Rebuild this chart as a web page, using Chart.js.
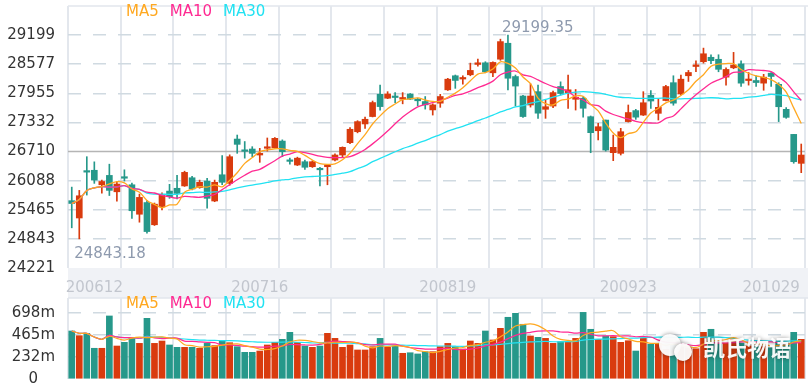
<!DOCTYPE html>
<html>
<head>
<meta charset="utf-8">
<script src="https://cdn.jsdelivr.net/npm/chart.js@4.4.0/dist/chart.umd.min.js"></script>
<style>
html, body { margin: 0; padding: 0; background: #fff; }
#wrap { position: relative; width: 808px; height: 384px; overflow: hidden; }
#kline { position: absolute; left: 0; top: 0; }
#vol { position: absolute; left: 0; top: 296px; }
</style>
</head>
<body>
<div id="wrap">
    <canvas id="kline" width="808" height="296"></canvas>
    <canvas id="vol" width="808" height="88"></canvas>
</div>
<script>
// ================= DATOS =================

const openP = [25660,25290,26300,26310,26000,26200,25850,26170,26000,25370,
    25620,25145,25535,25865,25925,25975,26150,25940,26080,25653,
    26214,26031,26977,26735,26764,26636,26780,26792,26934,26510,
    26422,26493,26386,26350,26386,26529,26636,26900,27134,27300,
    27458,27935,27850,27880,27830,27942,27810,27779,27600,27744,
    28029,28330,28260,28351,28572,28607,28393,28684,29025,28313,
    27897,27705,27990,27613,27683,28100,27968,27827,27849,27455,
    27155,27383,26686,26672,27350,27585,27490,27911,27527,27800,
    28182,27942,28330,28528,28630,28725,28682,28300,28500,28585,
    28228,28228,28172,28385,28147,27612,27077,26458];

const highP = [25950,25880,26600,26490,26100,26440,26070,26320,26035,25800,
    25660,25610,25830,26010,26200,26290,26180,26100,26140,26100,
    26622,26640,27063,26924,26814,26779,27000,27010,26960,26570,
    26590,26530,26510,26373,26430,26660,26810,27220,27370,27446,
    27790,28132,27990,27970,27970,27950,27850,27886,27730,27933,
    28275,28346,28330,28600,28687,28630,28630,29112,29199.35,28346,
    27910,28158,28132,27810,28000,28200,28345,28036,27886,27470,
    27314,27383,27063,27206,27705,27612,27990,28015,27826,28128,
    28330,28346,28444,28650,28921,28779,28779,28500,28830,28650,
    28400,28330,28360,28400,28180,27650,27077,26871];

const lowP = [25080,24843.18,25780,26030,25820,25770,25650,26080,25280,25200,
    24965,25130,25460,25710,25695,25965,25888,25925,25500,25638,
    26000,25990,26672,26569,26600,26480,26720,26780,26600,26440,
    26410,26330,26370,25973,26000,26510,26600,26880,27110,27206,
    27450,27597,27840,27757,27730,27820,27690,27617,27490,27655,
    28015,28061,28150,28330,28536,28393,28310,28660,28025,27683,
    27440,27660,27420,27420,27650,27918,27634,27597,27445,26685,
    26958,26720,26515,26636,27340,27398,27480,27634,27384,27793,
    27700,27918,28208,28415,28600,28586,28415,28130,28480,28100,
    28130,28100,28020,28100,27350,27420,26460,26258];

const closeP = [25600,25765,26270,26100,26070,25880,26015,26140,25445,25730,
    25000,25585,25785,25745,25815,26265,25910,26053,25710,26053,
    26053,26600,26864,26715,26672,26672,26800,26992,26706,26500,
    26569,26374,26493,26320,26422,26636,26800,27186,27350,27400,
    27757,27671,27942,27865,27865,27830,27795,27708,27708,27886,
    28257,28230,28293,28444,28607,28415,28615,29060,28277,28110,
    27458,27897,27530,27668,27970,27950,28030,27870,27635,27113,
    27241,26742,26800,27134,27544,27445,27753,27790,27655,28100,
    27744,28257,28400,28563,28800,28652,28468,28465,28560,28172,
    28257,28185,28300,28315,27668,27441,26493,26636];

const ma5 = [25600,25683,25878,25934,25961,26017,26067,26041,25910,25842,
    25666,25580,25509,25569,25586,25839,25904,25958,25951,25998,
    25956,26094,26256,26457,26581,26705,26745,26770,26768,26734,
    26713,26628,26528,26451,26436,26449,26534,26673,26879,27074,
    27299,27473,27624,27727,27820,27835,27859,27813,27781,27785,
    27871,27958,28075,28222,28366,28398,28475,28628,28595,28495,
    28304,28160,27854,27733,27705,27803,27830,27898,27891,27720,
    27578,27320,27106,27006,27092,27133,27335,27533,27637,27749,
    27808,27909,28031,28213,28353,28534,28577,28590,28589,28463,
    28384,28328,28295,28246,28145,27982,27643,27311];

const ma10 = [25600,25683,25878,25934,25961,25948,25957,25980,25921,25902,
    25842,25824,25775,25740,25714,25753,25742,25733,25760,25792,
    25897,25999,26107,26204,26290,26330,26419,26513,26613,26657,
    26709,26686,26649,26610,26585,26581,26581,26601,26665,26755,
    26874,27004,27148,27303,27447,27567,27666,27718,27754,27803,
    27853,27909,27944,28002,28076,28134,28216,28352,28408,28431,
    28351,28318,28241,28164,28100,28054,27995,27876,27812,27712,
    27690,27575,27502,27449,27406,27355,27328,27320,27322,27420,
    27471,27622,27782,27925,28051,28171,28243,28310,28401,28408,
    28459,28452,28442,28417,28304,28183,27986,27803];

const ma30 = [25600,25683,25878,25934,25961,25948,25957,25980,25921,25902,
    25820,25800,25799,25795,25796,25826,25831,25843,25836,25847,
    25857,25890,25933,25965,25994,26020,26049,26082,26104,26117,
    26149,26170,26177,26184,26196,26221,26247,26282,26346,26402,
    26493,26563,26635,26706,26774,26826,26889,26944,27011,27072,
    27145,27200,27247,27305,27369,27427,27488,27557,27609,27663,
    27692,27743,27778,27823,27874,27918,27959,27982,27991,27982,
    27965,27934,27896,27871,27861,27848,27846,27849,27847,27854,
    27837,27838,27842,27846,27852,27860,27855,27835,27845,27847,
    27874,27883,27909,27930,27920,27903,27852,27811];

// volumen en millones
const volM = [508,458,483,325,325,667,349,388,430,377,
    642,377,402,360,335,335,335,325,377,353,
    402,384,342,282,282,296,360,388,420,494,
    388,349,335,349,483,430,335,360,307,307,
    342,430,335,349,272,278,265,289,289,342,
    377,342,317,402,377,508,413,536,653,695,
    579,455,441,430,377,395,395,430,705,526,
    420,455,448,388,405,296,430,367,377,314,
    360,340,330,320,494,526,370,380,420,380,
    350,340,350,330,400,380,494,420];

const vma5 = [508,483,483,444,420,452,430,411,432,442,
    437,443,446,432,423,362,353,338,341,345,
    358,368,372,353,338,317,312,322,349,392,
    410,408,397,383,381,389,386,391,383,348,
    330,349,344,353,346,333,300,291,279,293,
    312,328,333,356,363,389,403,447,497,561,
    575,584,565,520,456,420,408,405,460,490,
    495,507,511,447,423,398,393,377,375,357,
    370,352,344,333,369,402,408,418,438,415,
    380,374,368,350,354,360,391,405];

const vma10 = [508,483,483,444,420,461,445,438,437,431,
    444,436,428,432,433,400,398,392,387,384,
    360,361,355,347,342,338,340,347,351,365,
    364,360,359,366,386,400,397,394,383,364,
    360,368,368,368,347,332,325,317,316,319,
    323,314,312,317,328,351,366,390,427,462,
    482,494,506,509,509,497,496,485,490,473,
    457,457,458,454,457,447,450,444,411,390,
    384,373,361,354,363,386,380,381,385,392,
    391,391,393,393,384,369,381,385];

const vma30 = [508,483,483,444,420,461,445,438,437,431,
    450,444,441,435,428,423,417,412,410,408,
    407,406,403,398,394,390,389,389,390,393,
    389,386,381,382,387,379,379,378,373,371,
    361,363,361,360,358,356,354,353,350,349,
    349,347,346,350,354,361,362,367,375,382,
    388,392,395,398,394,393,395,398,411,418,
    421,422,425,427,431,432,437,440,443,442,
    441,441,442,439,443,443,442,437,429,418,
    411,407,404,401,401,401,404,404];

const xTickLabels = ["200612", "200716", "200819", "200923", "201029"];
const xTickAt = [3, 25, 50, 74, 93];

const priceTicks = [24221, 24843, 25465, 26088, 26710, 27332, 27955, 28577, 29199];
const priceTop = 29821;
const refLine = 26710;

const volTicks = [0, 232.67, 465.33, 698];
const volTop = 857;

const maNames = ["MA5", "MA10", "MA30"];

// ================= ESTILOS =================

const upColor = "#d93b0e";
const downColor = "#26988a";
const maColors = ["#ffa820", "#ff2a92", "#22e2f2"];
const FONT = "DejaVu Sans";

const labels = closeP.map((c, i) => i);
const candleColor = closeP.map((c, i) => c >= openP[i] ? upColor : downColor);

// ================= PLUGINS =================

const panelBg = {
    id: "panelBg",
    beforeDraw(chart, args, opts)
    {
        const { ctx, chartArea: a, width, height } = chart;
        ctx.save();
        ctx.fillStyle = "#fff";
        ctx.fillRect(0, 0, width, height);
        ctx.fillStyle = "#f0f2f6";
        if(opts.band === "bottom")
            ctx.fillRect(a.left, a.bottom, width - a.left, height - a.bottom);
        else
            ctx.fillRect(a.left, 0, width - a.left, a.top);
        ctx.strokeStyle = "#e2e6ec";
        ctx.lineWidth = 1.5;
        ctx.beginPath();
        ctx.moveTo(a.left, a.top);
        ctx.lineTo(width, a.top);
        ctx.stroke();
        ctx.restore();
    }
};

const maLegend = {
    id: "maLegend",
    afterDraw(chart, args, opts)
    {
        const ctx = chart.ctx;
        ctx.save();
        ctx.font = "15px '" + FONT + "'";
        ctx.textBaseline = "middle";
        let x = chart.chartArea.left + 58;
        maNames.forEach((name, i) => {
            ctx.fillStyle = maColors[i];
            ctx.fillText(name, x, opts.y);
            x += ctx.measureText(name).width + 11;
        });
        ctx.restore();
    }
};

const refAndExtremes = {
    id: "refAndExtremes",
    beforeDatasetsDraw(chart)
    {
        const { ctx, chartArea: a } = chart;
        const y = chart.scales.y.getPixelForValue(refLine);
        ctx.save();
        ctx.strokeStyle = "#b5b5b5";
        ctx.lineWidth = 1.5;
        ctx.beginPath();
        ctx.moveTo(a.left, y);
        ctx.lineTo(a.right, y);
        ctx.stroke();
        ctx.restore();
    },
    afterDatasetsDraw(chart)
    {
        const ctx = chart.ctx;
        const xs = chart.scales.x, ys = chart.scales.y;
        const hi = highP.indexOf(Math.max(...highP));
        const lo = lowP.indexOf(Math.min(...lowP));
        ctx.save();
        ctx.font = "15px '" + FONT + "'";
        ctx.fillStyle = "#8e9aae";
        ctx.textBaseline = "middle";
        ctx.fillText(highP[hi].toFixed(2), xs.getPixelForValue(hi) - 6, ys.getPixelForValue(highP[hi]) - 7);
        ctx.fillText(lowP[lo].toFixed(2), xs.getPixelForValue(lo) - 5, ys.getPixelForValue(lowP[lo]) + 15);
        ctx.restore();
    }
};

const watermark = {
    id: "watermark",
    afterDraw(chart)
    {
        const ctx = chart.ctx;
        ctx.save();
        ctx.shadowColor = "rgba(0,0,0,0.45)";
        ctx.shadowBlur = 4;
        ctx.fillStyle = "rgba(255,255,255,0.95)";
        ctx.beginPath();
        ctx.arc(670, 49, 11, 0, Math.PI * 2);
        ctx.fill();
        ctx.beginPath();
        ctx.arc(683, 56, 9, 0, Math.PI * 2);
        ctx.fill();
        ctx.font = "bold 22px 'Noto Sans CJK SC'";
        ctx.textBaseline = "middle";
        ctx.fillText("凯氏物语", 703, 52);
        ctx.restore();
    }
};

// ================= OPCIONES COMUNES =================

function fixWidth(s) { s.width = 68; s.paddingTop = 0; s.paddingBottom = 0; }

const vGrid = {
    type: "linear",
    position: "top",
    min: 0,
    max: 13,
    ticks: { display: false, stepSize: 1 },
    grid: { color: "#e3e7ed", lineWidth: 2, drawTicks: false },
    border: { display: false },
    afterFit: s => { s.height = 0; }
};

function maLine(data, i, w)
{
    return {
        type: "line",
        data: data,
        borderColor: maColors[i],
        borderWidth: w,
        pointRadius: 0,
        tension: 0.3,
        order: 0
    };
}

// ================= GRAFICA VELAS =================

new Chart(document.getElementById("kline"), {
    type: "bar",
    data: {
        labels: labels,
        datasets: [
            maLine(ma5, 0, 1.3),
            maLine(ma10, 1, 1.3),
            maLine(ma30, 2, 1.3),
            {
                data: lowP.map((l, i) => [l, highP[i]]),
                backgroundColor: candleColor,
                barThickness: 1,
                grouped: false,
                order: 2
            },
            {
                data: openP.map((o, i) => [o, closeP[i]]),
                backgroundColor: candleColor,
                barThickness: 6,
                minBarLength: 1.5,
                grouped: false,
                order: 1
            }
        ]
    },
    options: {
        responsive: false,
        animation: false,
        events: [],
        layout: { padding: { top: 6, right: 3, left: 0, bottom: 0 } },
        plugins: {
            legend: { display: false },
            tooltip: { enabled: false },
            panelBg: { band: "bottom" },
            maLegend: { y: 12 }
        },
        scales: {
            x: {
                type: "category",
                offset: true,
                grid: { display: false },
                border: { display: false },
                ticks: {
                    autoSkip: false,
                    maxRotation: 0,
                    padding: 3,
                    color: "#c2c6ce",
                    font: { family: FONT, size: 15 },
                    callback: (v, i) => {
                        const k = xTickAt.indexOf(i);
                        return k < 0 ? "" : xTickLabels[k];
                    }
                },
                afterFit: s => { s.height = 28; s.paddingLeft = 0; s.paddingRight = 0; }
            },
            x2: vGrid,
            y: {
                type: "linear",
                min: priceTicks[0],
                max: priceTop,
                afterBuildTicks: s => { s.ticks = priceTicks.map(v => ({ value: v })); },
                ticks: {
                    padding: 13,
                    crossAlign: "center",
                    color: "#333",
                    font: { family: FONT, size: 15 },
                    callback: v => String(v)
                },
                grid: {
                    drawTicks: false,
                    lineWidth: 1.5,
                    color: ctx => (ctx.tick.value === priceTicks[0] || ctx.tick.value === refLine)
                        ? "rgba(0,0,0,0)" : "#d0dae1"
                },
                border: { display: false, dash: [13, 12] },
                afterFit: fixWidth
            }
        }
    },
    plugins: [panelBg, refAndExtremes, maLegend]
});

// ================= GRAFICA VOLUMEN =================

new Chart(document.getElementById("vol"), {
    type: "bar",
    data: {
        labels: labels,
        datasets: [
            maLine(vma5, 0, 1.2),
            maLine(vma10, 1, 1.2),
            maLine(vma30, 2, 1.2),
            {
                data: volM,
                backgroundColor: candleColor,
                barThickness: 6,
                order: 1
            }
        ]
    },
    options: {
        responsive: false,
        animation: false,
        events: [],
        layout: { padding: { top: 2, right: 3, left: 0, bottom: 5 } },
        plugins: {
            legend: { display: false },
            tooltip: { enabled: false },
            panelBg: { band: "top" },
            maLegend: { y: 8 }
        },
        scales: {
            x: {
                type: "category",
                offset: true,
                display: false
            },
            x2: vGrid,
            y: {
                type: "linear",
                min: 0,
                max: volTop,
                afterBuildTicks: s => { s.ticks = volTicks.map(v => ({ value: v })); },
                ticks: {
                    padding: 13,
                    crossAlign: "center",
                    color: "#333",
                    font: { family: FONT, size: 15 },
                    callback: v => v === 0 ? "0" : Math.floor(v) + "m"
                },
                grid: {
                    drawTicks: false,
                    lineWidth: 1.5,
                    color: ctx => ctx.tick.value === 0 ? "rgba(0,0,0,0)" : "#d0dae1"
                },
                border: { display: false, dash: [13, 12] },
                afterFit: fixWidth
            }
        }
    },
    plugins: [panelBg, maLegend, watermark]
});
</script>
</body>
</html>
